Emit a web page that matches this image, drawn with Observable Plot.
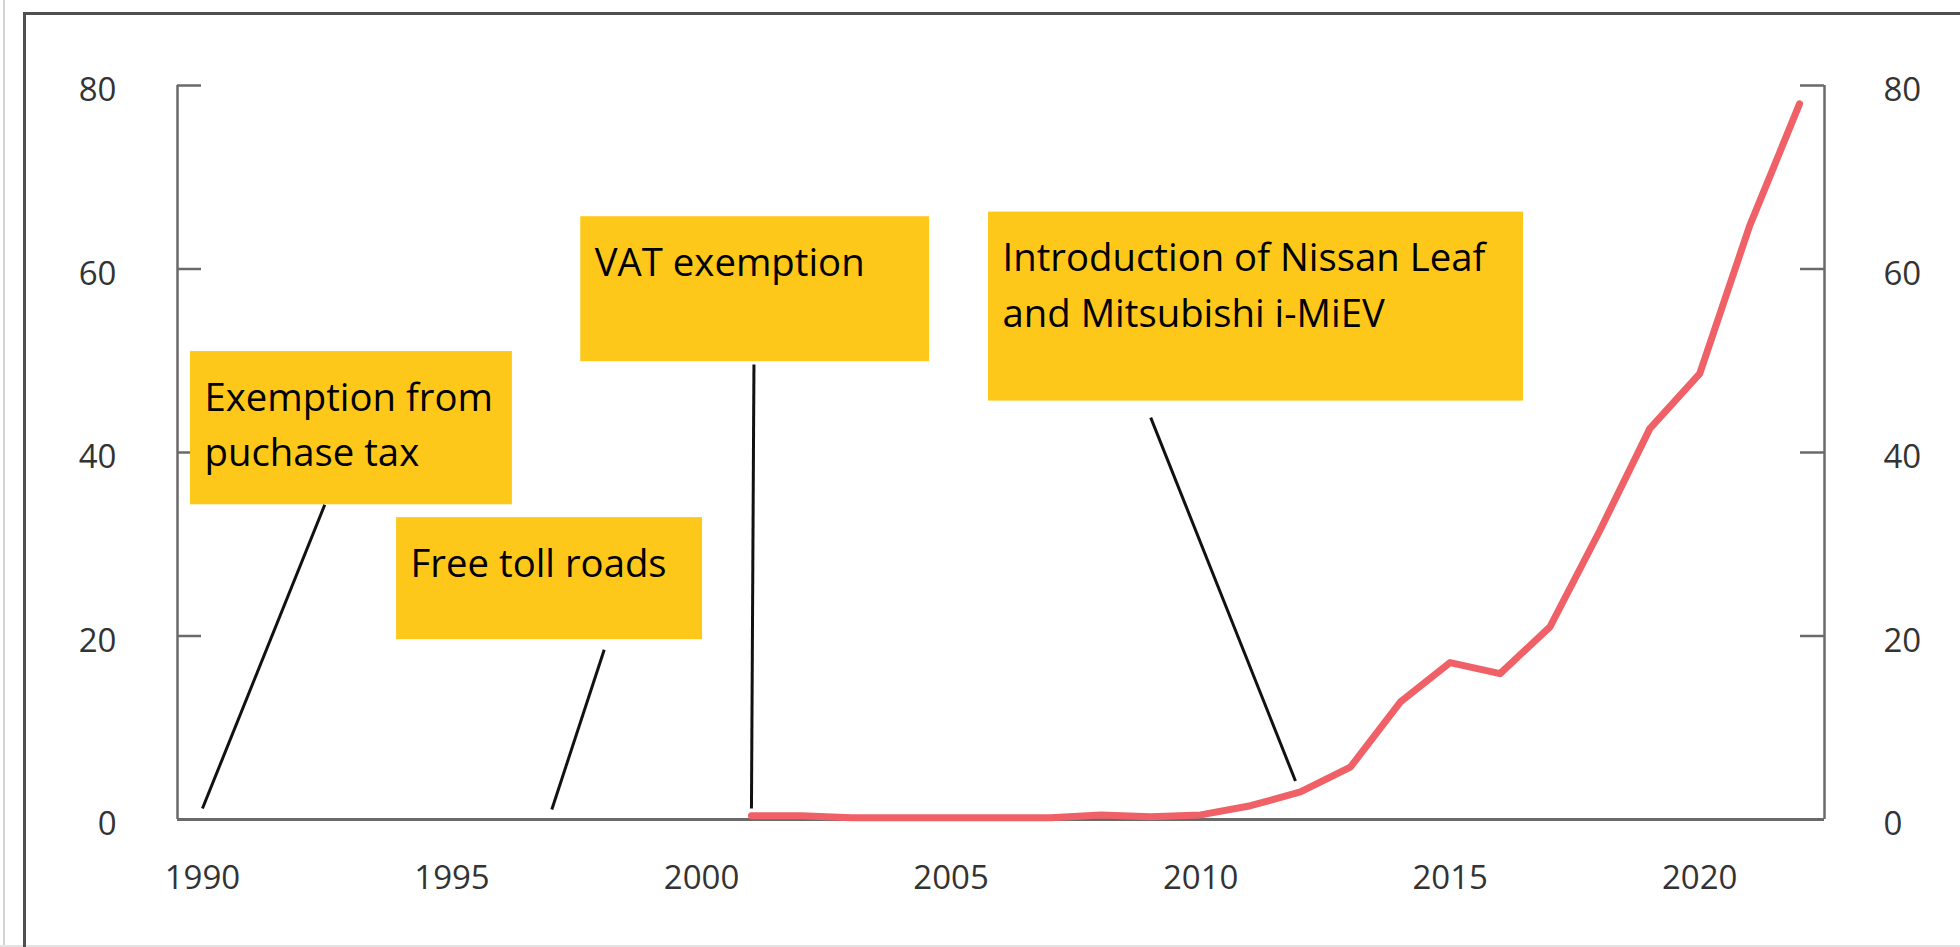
<!DOCTYPE html>
<html>
<head>
<meta charset="utf-8">
<script src="https://cdn.jsdelivr.net/npm/d3@7"></script>
<script src="https://cdn.jsdelivr.net/npm/@observablehq/plot@0.6"></script>
<style>
  html, body { margin: 0; padding: 0; background: #ffffff; }
  #wrap { position: relative; width: 1960px; height: 947px; overflow: hidden; background: #ffffff; }
  #chart { position: absolute; left: 0; top: 0; }
  .edge { position: absolute; pointer-events: none; }
</style>
</head>
<body>
<div id="wrap">
  <div id="chart"></div>
  <div class="edge" style="left:3px; top:0; width:2px; height:947px; background:#d4d4d4;"></div>
  <div class="edge" style="left:0; top:945px; width:1960px; height:2px; background:#e4e4e4;"></div>
  <div class="edge" style="left:23px; top:12px; width:1937px; height:935px; border-left:3px solid #4f4f4f; border-top:3px solid #4f4f4f;"></div>
</div>
<script>
// ---- data ----
const years = [2001, 2002, 2003, 2004, 2005, 2006, 2007, 2008, 2009, 2010, 2011,
               2012, 2013, 2014, 2015, 2016, 2017, 2018, 2019, 2020, 2021, 2022];
const values = [0.4, 0.4, 0.2, 0.2, 0.2, 0.2, 0.2, 0.5, 0.3, 0.5, 1.5,
                3.0, 5.7, 12.8, 17.1, 15.9, 21.0, 31.5, 42.6, 48.6, 64.7, 78.0];

const xDomain = [1989.5, 2022.5];
const yDomain = [0, 80];
const xTicks = [1990, 1995, 2000, 2005, 2010, 2015, 2020];
const yTicks = [0, 20, 40, 60, 80];

// annotation boxes (data coordinates)
const notes = ["Exemption from\npuchase tax", "Free toll roads", "VAT exemption",
               "Introduction of Nissan Leaf\nand Mitsubishi i-MiEV"];
const boxX1 = [1989.76, 1993.89, 1997.58, 2005.75];
const boxX2 = [1996.21, 2000.02, 2004.57, 2016.47];
const boxTop = [51.0, 32.9, 65.7, 66.2];
const boxBottom = [34.3, 19.6, 49.9, 45.6];
// pointer lines (data coordinates)
const pointerFromX = [1992.45, 1998.05, 2001.05, 2009.0];
const pointerFromY = [34.3, 18.5, 49.6, 43.8];
const pointerToX = [1990.0, 1997.0, 2001.0, 2011.9];
const pointerToY = [1.2, 1.1, 1.2, 4.2];

// ---- layout ----
const W = 1960, H = 947;
const mL = 177, mR = 136, mT = 85, mB = 128;
const innerW = W - mL - mR;
const axisColor = "#6a6a6a";
const labelColor = "#333333";
const lineColor = "#ef6167";
const boxColor = "#fec81a";

const series = years.map((y, i) => ({year: y, value: values[i]}));
const idx = d3.range(notes.length);

const chart = Plot.plot({
  width: W,
  height: H,
  marginLeft: mL,
  marginRight: mR,
  marginTop: mT,
  marginBottom: mB,
  style: {fontFamily: "'Open Sans', 'Noto Sans', sans-serif", fontSize: "33px", background: "transparent", color: labelColor},
  x: {domain: xDomain, label: null},
  y: {domain: yDomain, label: null},
  marks: [
    // axes labels
    Plot.axisX({ticks: xTicks, tickSize: 0, tickPadding: 46, tickFormat: d => String(d), fontSize: 33, color: labelColor, label: null}),
    Plot.axisY({anchor: "left", ticks: yTicks, tickSize: 0, tickPadding: 61, dy: 5, fontSize: 33, color: labelColor, label: null}),
    Plot.axisY({anchor: "right", ticks: yTicks, tickSize: 0, tickPadding: 59, dy: 5, fontSize: 33, color: labelColor, label: null}),
    // inward ticks
    Plot.ruleY(yTicks, {stroke: axisColor, strokeWidth: 2.5, insetRight: innerW - 24}),
    Plot.ruleY(yTicks, {stroke: axisColor, strokeWidth: 2.5, insetLeft: innerW - 24}),
    // axis lines
    Plot.ruleX(xDomain, {y1: yDomain[0], y2: yDomain[1], stroke: axisColor, strokeWidth: 2.5}),
    Plot.ruleY([0], {stroke: axisColor, strokeWidth: 3}),
    // annotation boxes
    Plot.rect(idx, {x1: boxX1, x2: boxX2, y1: boxBottom, y2: boxTop, fill: boxColor}),
    Plot.text(idx, {x: boxX1, y: boxTop, text: notes, textAnchor: "start", lineAnchor: "top",
                    dx: 14, dy: 19.5, fontSize: 38.3, lineHeight: 1.45, fill: "#000000"}),
    Plot.link(idx, {x1: pointerFromX, y1: pointerFromY, x2: pointerToX, y2: pointerToY,
                    stroke: "#111111", strokeWidth: 3}),
    // series
    Plot.line(series, {x: "year", y: "value", stroke: lineColor, strokeWidth: 7})
  ]
});
document.getElementById("chart").appendChild(chart);
</script>
</body>
</html>
